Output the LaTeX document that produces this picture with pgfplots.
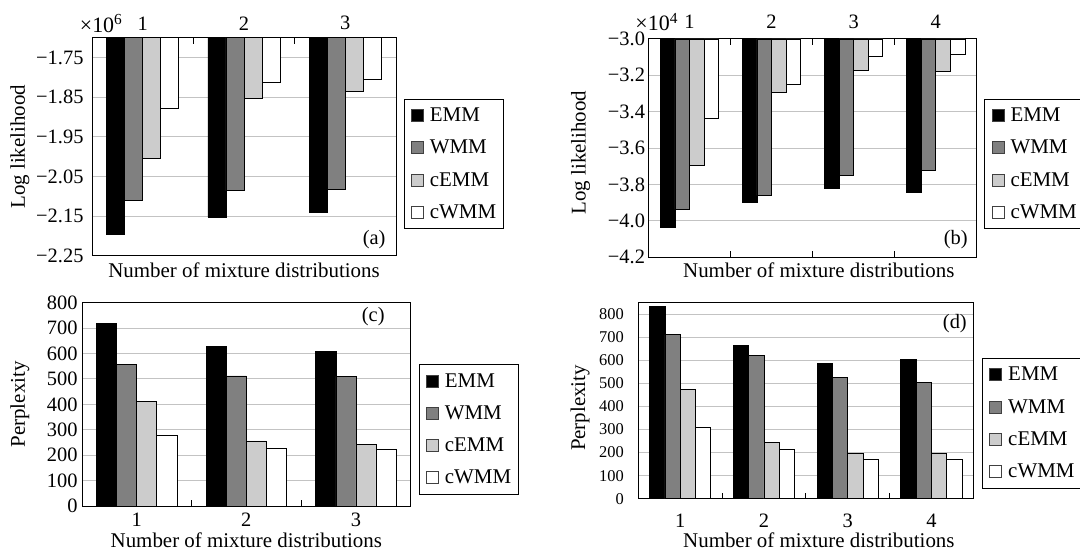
\documentclass[border=0pt]{standalone}
\usepackage{fontspec}
\setmainfont{Liberation Serif}
\usepackage{pgfplots}
\pgfplotsset{compat=1.18}

\definecolor{cEMMc}{RGB}{204,204,204}
\definecolor{WMMc}{RGB}{128,128,128}
\definecolor{gridc}{RGB}{195,195,195}

\newcommand{\fs}{\fontsize{20.5}{24}\selectfont}
\newcommand{\fl}{\fontsize{21}{25}\selectfont}

\pgfplotsset{
  myaxis/.style={
    scale only axis, anchor=south west,
    ybar, clip mode=individual,
    /pgf/number format/assume math mode=true,
    xmin=0.5,
    ymajorgrids, grid style={gridc, line width=1bp},
    axis line style={line width=1bp},
    major tick length=0pt, minor tick length=6bp, tick align=inside,
    minor tick style={line width=0.8bp, black},
    tick label style={font=\fs},
    label style={font=\fl},
    legend style={font=\fl, draw=black, line width=0.8bp,
      inner xsep=7bp, inner ysep=9bp, nodes={inner sep=0pt},
      row sep=17bp, column sep=6bp, anchor=west},
    legend cell align=left,
    legend image code/.code={\draw[##1,line width=0.8bp,draw=black!75] (0bp,-6bp) rectangle (12bp,6bp);},
  },
  bE/.style={fill=black, draw=black, line width=0.7bp},
  bW/.style={fill=WMMc, draw=black, line width=0.7bp},
  bcE/.style={fill=cEMMc, draw=black, line width=0.7bp},
  bcW/.style={fill=white, draw=black, line width=0.7bp},
}

\begin{document}
\begin{tikzpicture}
\useasboundingbox (0,0) rectangle (1080bp,552bp);

% (a)
\begin{axis}[myaxis, at={(92bp,296bp)}, width=304bp, height=218.3bp,
  bar width=0.178,
  xmax=3.5, ymin=-2.25, ymax=-1.70,
  xtick={1,2,3}, xticklabels={1,2,3}, minor xtick={1.5,2.5}, xtick pos=right, xticklabel pos=right,
  xticklabel style={anchor=center, yshift=14.4bp},
  ytick={-2.25,-2.15,-2.05,-1.95,-1.85,-1.75},
  yticklabels={−2.25,−2.15,−2.05,−1.95,−1.85,−1.75},
  yticklabel style={xshift=-5bp},
  ylabel={Log likelihood}, ylabel style={at={(axis description cs:-0.237,0.5)}, anchor=center},
  xlabel={Number of mixture distributions}, xlabel style={at={(axis description cs:0.5,-0.064)}, anchor=center},
  legend style={at={(1.0253,0.422)}},
]
\addplot[bE, bar shift=-0.267] coordinates {(1,-2.195) (2,-2.152) (3,-2.139)};
\addplot[bW, bar shift=-0.089] coordinates {(1,-2.111) (2,-2.085) (3,-2.081)};
\addplot[bcE, bar shift=0.089] coordinates {(1,-2.003) (2,-1.852) (3,-1.835)};
\addplot[bcW, bar shift=0.267] coordinates {(1,-1.879) (2,-1.812) (3,-1.804)};
\legend{EMM,WMM,cEMM,cWMM}
\node[font=\fs] at (axis description cs:0.928,0.073) {(a)};
\node[font=\fontsize{22}{26}\selectfont] at (axis description cs:0.03,1.066) {×10\textsuperscript{6}};
\end{axis}

% (b)
\begin{axis}[myaxis, at={(648.5bp,294.7bp)}, width=328.2bp, height=218.3bp,
  bar width=0.178,
  xmax=4.5, ymin=-4.2, ymax=-3.0,
  xtick={1,2,3,4}, xticklabels={1,2,3,4}, minor xtick={1.5,2.5,3.5}, xtick pos=both, xticklabel pos=right,
  xticklabel style={anchor=center, yshift=17.3bp},
  ytick={-4.2,-4.0,-3.8,-3.6,-3.4,-3.2,-3.0},
  yticklabels={−4.2,−4.0,−3.8,−3.6,−3.4,−3.2,−3.0},
  ylabel={Log likelihood}, ylabel style={at={(axis description cs:-0.207,0.48)}, anchor=center},
  xlabel={Number of mixture distributions}, xlabel style={at={(axis description cs:0.519,-0.061)}, anchor=center},
  legend style={at={(1.0232,0.428)}},
]
\addplot[bE, bar shift=-0.267] coordinates {(1,-4.035) (2,-3.897) (3,-3.822) (4,-3.841)};
\addplot[bW, bar shift=-0.089] coordinates {(1,-3.936) (2,-3.859) (3,-3.751) (4,-3.722)};
\addplot[bcE, bar shift=0.089] coordinates {(1,-3.694) (2,-3.293) (3,-3.174) (4,-3.180)};
\addplot[bcW, bar shift=0.267] coordinates {(1,-3.436) (2,-3.249) (3,-3.093) (4,-3.082)};
\legend{EMM,WMM,cEMM,cWMM}
\node[font=\fs] at (axis description cs:0.936,0.082) {(b)};
\node[font=\fontsize{22}{26}\selectfont] at (axis description cs:0.025,1.078) {×10\textsuperscript{4}};
\end{axis}

% (c)
\begin{axis}[myaxis, at={(82bp,46bp)}, width=328.7bp, height=203.3bp,
  bar width=0.183,
  xmax=3.5, ymin=0, ymax=800,
  xtick={1,2,3}, xticklabels={1,2,3}, minor xtick={1.5,2.5}, xtick pos=left,
  xticklabel style={anchor=center, yshift=-14bp},
  ytick={0,100,200,300,400,500,600,700,800},
  yticklabels={0,100,200,300,400,500,600,700,800},
  yticklabel style={xshift=-1bp},
  ylabel={Perplexity}, ylabel style={at={(axis description cs:-0.189,0.5)}, anchor=center},
  xlabel={Number of mixture distributions}, xlabel style={at={(axis description cs:0.5,-0.167)}, anchor=center},
  legend style={at={(1.0243,0.376)}},
]
\addplot[bE, bar shift=-0.2745] coordinates {(1,717) (2,627) (3,607)};
\addplot[bW, bar shift=-0.0915] coordinates {(1,557) (2,512) (3,510)};
\addplot[bcE, bar shift=0.0915] coordinates {(1,412) (2,256) (3,243)};
\addplot[bcW, bar shift=0.2745] coordinates {(1,278) (2,226) (3,222)};
\legend{EMM,WMM,cEMM,cWMM}
\node[font=\fs] at (axis description cs:0.886,0.931) {(c)};
\end{axis}

% (d)
\begin{axis}[myaxis, at={(638.3bp,53.3bp)}, width=335bp, height=196bp,
  bar width=0.183,
  xmax=4.5, ymin=0, ymax=850,
  xtick={1,2,3,4}, xticklabels={1,2,3,4}, minor xtick={1.5,2.5,3.5}, xtick pos=left,
  xticklabel style={anchor=center, yshift=-22bp, inner sep=1bp},
  ytick={0,100,200,300,400,500,600,700,800},
  yticklabels={0,100,200,300,400,500,600,700,800},
  yticklabel style={font=\fontsize{16.5}{19}\selectfont, xshift=-11bp},
  ylabel={Perplexity}, ylabel style={at={(axis description cs:-0.174,0.463)}, anchor=center},
  xlabel={Number of mixture distributions}, xlabel style={at={(axis description cs:0.539,-0.214)}, anchor=center, inner sep=1bp},
  legend style={at={(1.026,0.386)}},
]
\addplot[bE, bar shift=-0.2745] coordinates {(1,835) (2,666) (3,588) (4,604)};
\addplot[bW, bar shift=-0.0915] coordinates {(1,712) (2,621) (3,526) (4,504)};
\addplot[bcE, bar shift=0.0915] coordinates {(1,475) (2,244) (3,198) (4,198)};
\addplot[bcW, bar shift=0.2745] coordinates {(1,310) (2,214) (3,172) (4,170)};
\legend{EMM,WMM,cEMM,cWMM}
\node[font=\fs] at (axis description cs:0.945,0.895) {(d)};
\end{axis}
\end{tikzpicture}
\end{document}
